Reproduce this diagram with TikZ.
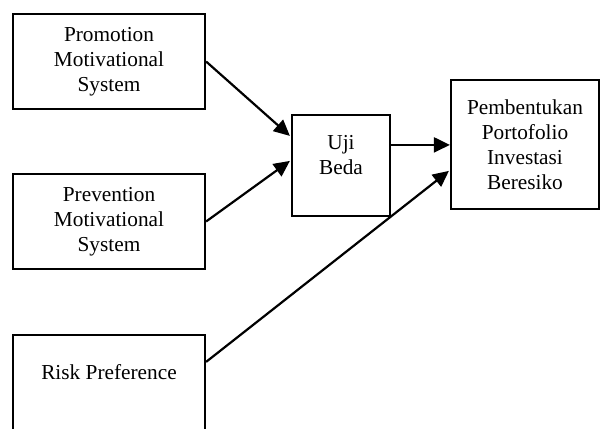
\documentclass[tikz,border=0pt]{standalone}
\usepackage{fontspec}
\setmainfont{Liberation Serif}
\usetikzlibrary{arrows.meta,calc}
\begin{document}
\begin{tikzpicture}[x=1pt,y=-1pt,
  box/.style={draw=black,line width=2.2pt,inner sep=0pt,align=center,
    font=\fontsize{21.3}{25}\selectfont},
  lbl/.style={inner sep=0pt,align=center,font=\fontsize{21.3}{25}\selectfont},
  arr/.style={line width=2.2pt,-{Triangle[length=16pt,width=15pt]}}]
\useasboundingbox (0,0) rectangle (601,428);
\node[box,minimum width=192pt,minimum height=95pt] (promo) at (109,61.5) {Promotion\\Motivational\\System};
\node[box,minimum width=192pt,minimum height=95pt] (prev) at (109,221.5) {Prevention\\Motivational\\System};
\node[box,minimum width=192pt,minimum height=110pt] (risk) at (109,390) {};
\node[lbl] (risktxt) at (109,372) {Risk Preference};
\node[box,minimum width=98pt,minimum height=101pt] (uji) at (341,165.5) {};
\node[lbl] (ujitxt) at (341,155) {Uji\\Beda};
\node[box,minimum width=148pt,minimum height=129pt] (pemb) at (525,144.5) {Pembentukan\\Portofolio\\Investasi\\Beresiko};
\coordinate (u1) at ($(uji.north west)+(-1pt,-22pt)$);
\coordinate (u2) at ($(uji.north west)+(-1pt,-47pt)$);
\coordinate (r1) at ($(risk.north east)+(0pt,-28pt)$);
\coordinate (p1) at ($(pemb.north west)+(-1pt,-92pt)$);
\coordinate (u3) at ($(uji.north east)+(0pt,-31pt)$);
\draw[arr] (promo.east) -- (u1);
\draw[arr] (prev.east) -- (u2);
\draw[arr] (u3) -- (u3 -| pemb.west);
\draw[arr] (r1) -- (p1);
\end{tikzpicture}
\end{document}
